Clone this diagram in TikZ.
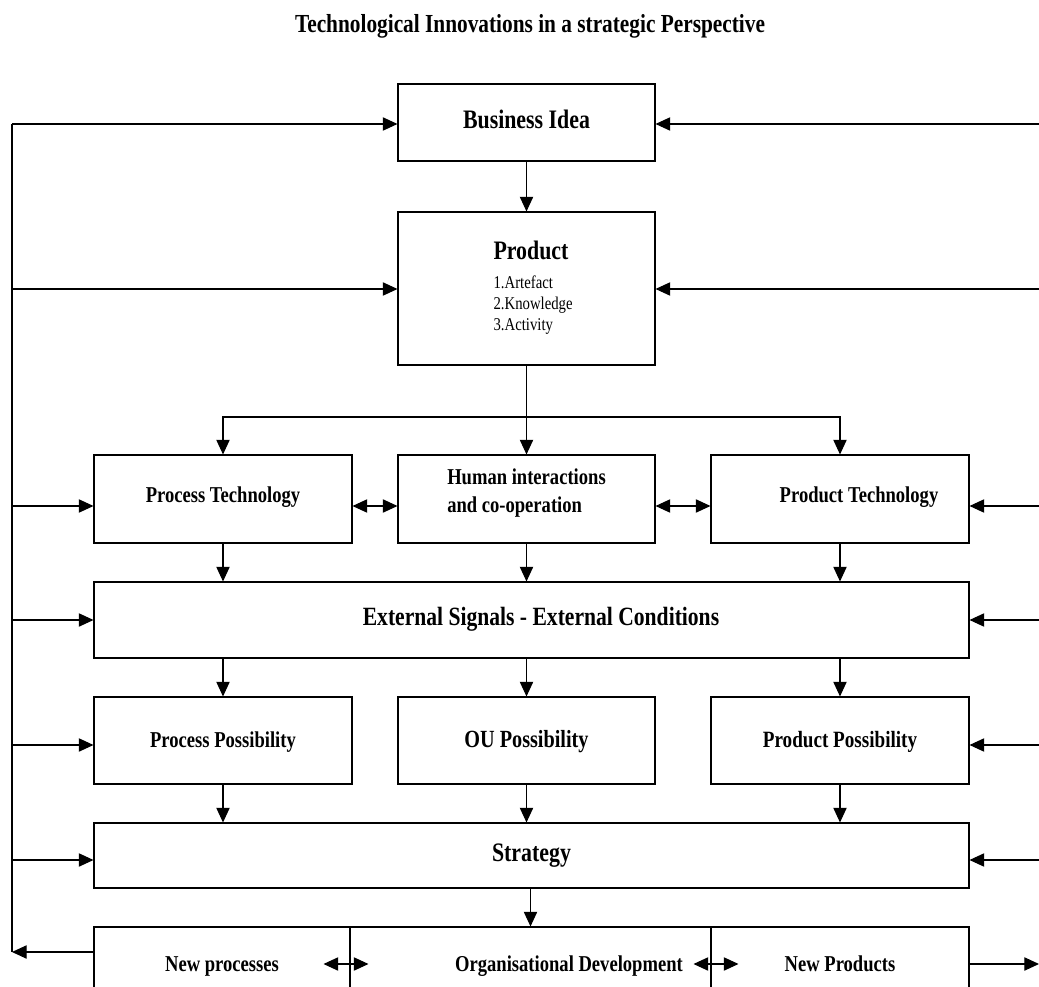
\documentclass[tikz,border=0pt]{standalone}
\usepackage{fontspec}
\setmainfont{Liberation Serif}[FakeStretch=0.82]
\usetikzlibrary{arrows.meta,calc}

\begin{document}
\begin{tikzpicture}[x=0.75pt,y=-0.75pt,
  line width=0.8pt,
  box/.style 2 args={draw, line width=0.8pt, inner sep=0pt,
    minimum width=#1*0.75pt, minimum height=#2*0.75pt},
  lbl/.style={font=\bfseries\fontsize{17}{21}\selectfont, align=center,
    text height=0.7em, text depth=0.22em},
  big/.style={font=\bfseries\fontsize{#1}{21}\selectfont},
  low/.style={text height=0.88em, text depth=0pt},
  lower/.style={text height=1.1em, text depth=0pt},
  ttlfont/.style={font=\bfseries\fontsize{19.5}{23}\selectfont, inner sep=0pt},
  itm/.style={font=\fontsize{13.5}{16}\selectfont, inner sep=0pt, anchor=base west},
  arr/.style={-{Triangle[length=11pt,width=10pt]}},
  darr/.style={{Triangle[length=11pt,width=10pt]}-{Triangle[length=11pt,width=10pt]}}
]
\useasboundingbox (0,0) rectangle (1039,987);
\clip (0,0) rectangle (1039,987);

% title
\node[ttlfont] (ttl) at (530,26) {Technological Innovations in a strategic Perspective};

% upper column
\node[box={257}{77}, lbl, big=20, low] (bi) at (526.5,122.5) {Business Idea};
\node[box={257}{153}] (prod) at (526.5,288.5) {};
\node[itm, font=\bfseries\fontsize{20}{24}\selectfont] (prodt) at (493,260) {Product};
\node[itm] (it1) at (493,289) {1.Artefact};
\node[itm] (it2) at (493,310) {2.Knowledge};
\node[itm] (it3) at (493,331) {3.Activity};

% technology row
\node[box={258}{88}, lbl] (pt) at (223,499) {Process Technology};
\node[box={257}{88}] (hi) at (526.5,499) {};
\node[align=left, font=\bfseries\fontsize{17}{21}\selectfont] (hit) at (526.5,493) {Human interactions\\and co-operation};
\node[box={258}{88}] (ptech) at (840,499) {};
\node[lbl] (ptecht) at (859,499) {Product Technology};

% external conditions
\node[box={875}{76}] (ext) at (531.5,620) {};
\node[lbl, big=19.75, low] (extt) at (541,620) {External Signals - External Conditions};

% possibility row
\node[box={258}{87}, lbl, lower] (pp) at (223,740.5) {Process Possibility};
\node[box={257}{87}, lbl, big=18.5, lower] (ou) at (526.5,740.5) {OU Possibility};
\node[box={258}{87}, lbl, big=17.5, lower] (prp) at (840,740.5) {Product Possibility};

% strategy
\node[box={875}{65}, lbl, big=20, low] (strat) at (531.5,855.5) {Strategy};

% outcome row
\node[box={256}{82}, lbl] (np) at (222,968) {New processes};
\node[box={361}{82}] (od) at (530.5,968) {};
\node[lbl] (odt) at (569,968) {Organisational Development};
\node[box={258}{82}, lbl] (npr) at (840,968) {New Products};

% downward flow
\draw[arr] (bi) -- (prod);
\coordinate (hub) at (526.5,417);
\draw (prod.south) -- (hub);
\draw[arr] (hub) -- (hi.north);
\draw[arr] (hub) -| (pt.north);
\draw[arr] (hub) -| (ptech.north);
\foreach \b in {pt,hi,ptech}{
  \draw[arr] (\b.south) -- (\b.south |- ext.north);
}
\foreach \b in {pp,ou,prp}{
  \draw[arr] (\b.north |- ext.south) -- (\b.north);
  \draw[arr] (\b.south) -- (\b.south |- strat.north);
}
\draw[arr] (od.north |- strat.south) -- (od.north);

% sideways links
\coordinate (L1) at (12,124);
\coordinate (L2) at (12,289);
\coordinate (L3) at (12,506);
\coordinate (L4) at (12,620);
\coordinate (L5) at (12,745);
\coordinate (L6) at (12,860);
\coordinate (L7) at (12,952);
\coordinate (B7) at (12,964);
\draw[darr] (pt.east |- L3) -- (hi.west |- L3);
\draw[darr] (hi.east |- L3) -- (ptech.west |- L3);
\draw[darr] ($(np.east |- B7)+(-27,0)$) -- ($(od.west |- B7)+(19,0)$);
\draw[darr] ($(od.east |- B7)+(-18,0)$) -- ($(npr.west |- B7)+(28,0)$);

% feedback on the left
\draw[arr] (np.west |- L7) -- (L7);
\draw (L7) -- (L1);
\draw[arr] (L1) -- (bi.west |- L1);
\draw[arr] (L2) -- (prod.west |- L2);
\draw[arr] (L3) -- (pt.west |- L3);
\draw[arr] (L4) -- (ext.west |- L4);
\draw[arr] (L5) -- (pp.west |- L5);
\draw[arr] (L6) -- (strat.west |- L6);

% inputs from the right
\coordinate (R1) at (1039,124);
\coordinate (R2) at (1039,289);
\coordinate (R3) at (1039,506);
\coordinate (R4) at (1039,620);
\coordinate (R5) at (1039,745);
\coordinate (R6) at (1039,860);
\coordinate (R7) at (1039,964);
\draw[arr] (R1) -- (bi.east |- R1);
\draw[arr] (R2) -- (prod.east |- R2);
\draw[arr] (R3) -- (ptech.east |- R3);
\draw[arr] (R4) -- (ext.east |- R4);
\draw[arr] (R5) -- (prp.east |- R5);
\draw[arr] (R6) -- (strat.east |- R6);
\draw[arr] (npr.east |- R7) -- (R7);
\end{tikzpicture}
\end{document}
